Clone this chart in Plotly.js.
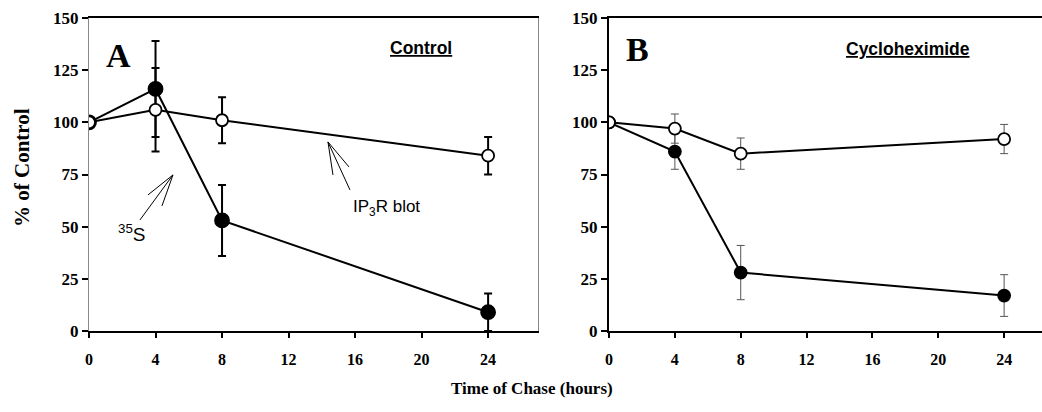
<!DOCTYPE html>
<html>
<head>
<meta charset="utf-8">
<script src="https://cdn.plot.ly/plotly-3.0.1.min.js"></script>
<style>
html,body{margin:0;padding:0;background:#fff;}
#chart{width:1042px;height:412px;}
#chart .xtick text, #chart .ytick text, #chart .x2tick text, #chart .y2tick text {
  font-family: "Liberation Serif", "Times New Roman", serif !important;
  font-weight: bold !important;
}
</style>
</head>
<body>
<div id="chart"></div>
<script>
// ---- data ----
const hours = [0, 4, 8, 24];
const xTicks = [0, 4, 8, 12, 16, 20, 24];
const yTicks = [0, 25, 50, 75, 100, 125, 150];

// Panel A: Control
const ctrl35S = [100, 116, 53, 9];
const ctrl35SErr = [null, 23, 17, 9];
const ctrlBlot = [100, 106, 101, 84];
const ctrlBlotErr = [null, 20, 11, 9];

// Panel B: Cycloheximide
const chx35S = [100, 86, 28, 17];
const chx35SErr = [null, 8.5, 13, 10];
const chxBlot = [100, 97, 85, 92];
const chxBlotErr = [null, 7, 7.5, 7];

const W = 1042, H = 412;
const serif = 'Liberation Serif';
const sans = 'Liberation Sans';
const px = v => v / W, py = v => 1 - v / H;

function series(x, y, err, xa, ya, filled, msize, errStyle) {
  return {
    x: x, y: y, xaxis: xa, yaxis: ya, type: 'scatter', mode: 'lines+markers',
    line: {color: '#000', width: 2},
    marker: {symbol: 'circle', size: msize, color: filled ? '#000' : '#fff',
             line: {color: '#000', width: 1.8}},
    error_y: Object.assign({type: 'data', array: err, visible: true, width: 4}, errStyle),
    showlegend: false, hoverinfo: 'x+y'
  };
}

const errA = {color: '#000', thickness: 2};
const errB = {color: '#555', thickness: 1};

const traces = [
  series(hours, ctrl35S, ctrl35SErr, 'x', 'y', true, 14, errA),
  series(hours, ctrlBlot, ctrlBlotErr, 'x', 'y', false, 12, errA),
  series(hours, chx35S, chx35SErr, 'x2', 'y2', true, 12, errB),
  series(hours, chxBlot, chxBlotErr, 'x2', 'y2', false, 12, errB)
];

const yDomain = [py(331), py(18)];
const bold = v => '<b>' + v + '</b>';

function xAxis(domain, range, anchor) {
  return {domain: domain, range: range, anchor: anchor,
    tickmode: 'array', tickvals: xTicks, ticktext: xTicks.map(bold),
    showgrid: false, zeroline: false, showline: true, linecolor: '#000', linewidth: 2,
    mirror: true, ticks: 'outside', ticklen: 5, tickwidth: 2, tickcolor: '#000',
    tickfont: {family: serif, size: 16, color: '#000', weight: 'bold'}, ticklabelstandoff: 8, fixedrange: true};
}
function yAxis(anchor, lineColor, lineWidth, mirror) {
  return {domain: yDomain, range: [0, 150], anchor: anchor,
    tickmode: 'array', tickvals: yTicks, ticktext: yTicks.map(bold),
    showgrid: false, zeroline: false, showline: true, linecolor: lineColor, linewidth: lineWidth,
    mirror: mirror, ticks: 'outside', ticklen: 6, tickwidth: 2, tickcolor: '#000',
    tickfont: {family: serif, size: 17, color: '#000', weight: 'bold'}, ticklabelstandoff: 0, fixedrange: true};
}

// hand-drawn style arrows: shaft + two arms meeting at the tip (pixel offsets from tip)
function arrowLines(tipX, tipY, tails) {
  return tails.map(t => ({type: 'line', xref: 'x', yref: 'y',
    xsizemode: 'pixel', ysizemode: 'pixel', xanchor: tipX, yanchor: tipY,
    x0: 0, y0: 0, x1: t[0], y1: -t[1], line: {color: '#000', width: 1}}));
}

function label(x, y, text, font, extra) {
  return Object.assign({xref: 'paper', yref: 'paper', x: px(x), y: py(y), text: text,
    showarrow: false, xanchor: 'center', yanchor: 'middle', font: font}, extra || {});
}

const annotations = [
  label(22, 168, '% of Control', {family: serif, size: 21, color: '#000', weight: 'bold'}, {textangle: -90}),
  label(532, 388, 'Time of Chase (hours)', {family: serif, size: 17, color: '#000', weight: 'bold'}),
  label(118, 55, 'A', {family: serif, size: 34, color: '#000', weight: 'bold'}),
  label(637, 50, 'B', {family: serif, size: 34, color: '#000', weight: 'bold'}),
  label(421, 48, '<u>Control</u>', {family: sans, size: 17.5, color: '#000', weight: 'bold'}),
  label(908, 49, '<u>Cycloheximide</u>', {family: sans, size: 17.5, color: '#000', weight: 'bold'}),
  label(131, 233, '<sup>35</sup>S', {family: sans, size: 19, color: '#000'}),
  label(386, 208, 'IP<sub>3</sub>R blot', {family: sans, size: 17, color: '#000'})
];

const shapes = [].concat(
  arrowLines(5.05, 74.8, [[-33, 45], [-25, 20], [-11, 31]]),
  arrowLines(14.37, 90.6, [[22, 48], [5, 33], [21, 25]])
);

const layout = {
  width: W, height: H,
  margin: {l: 0, r: 0, t: 0, b: 0, autoexpand: false},
  paper_bgcolor: '#fff', plot_bgcolor: '#fff',
  xaxis: xAxis([px(89), px(538)], [0, 27], 'y'),
  yaxis: yAxis('x', '#888', 1, true),
  xaxis2: xAxis([px(609), 1], [0, 26.3], 'y2'),
  yaxis2: yAxis('x2', '#000', 2, false),
  annotations: annotations,
  shapes: shapes,
  font: {family: serif, color: '#000'}
};

Plotly.newPlot('chart', traces, layout, {displayModeBar: false, staticPlot: true});
</script>
</body>
</html>
